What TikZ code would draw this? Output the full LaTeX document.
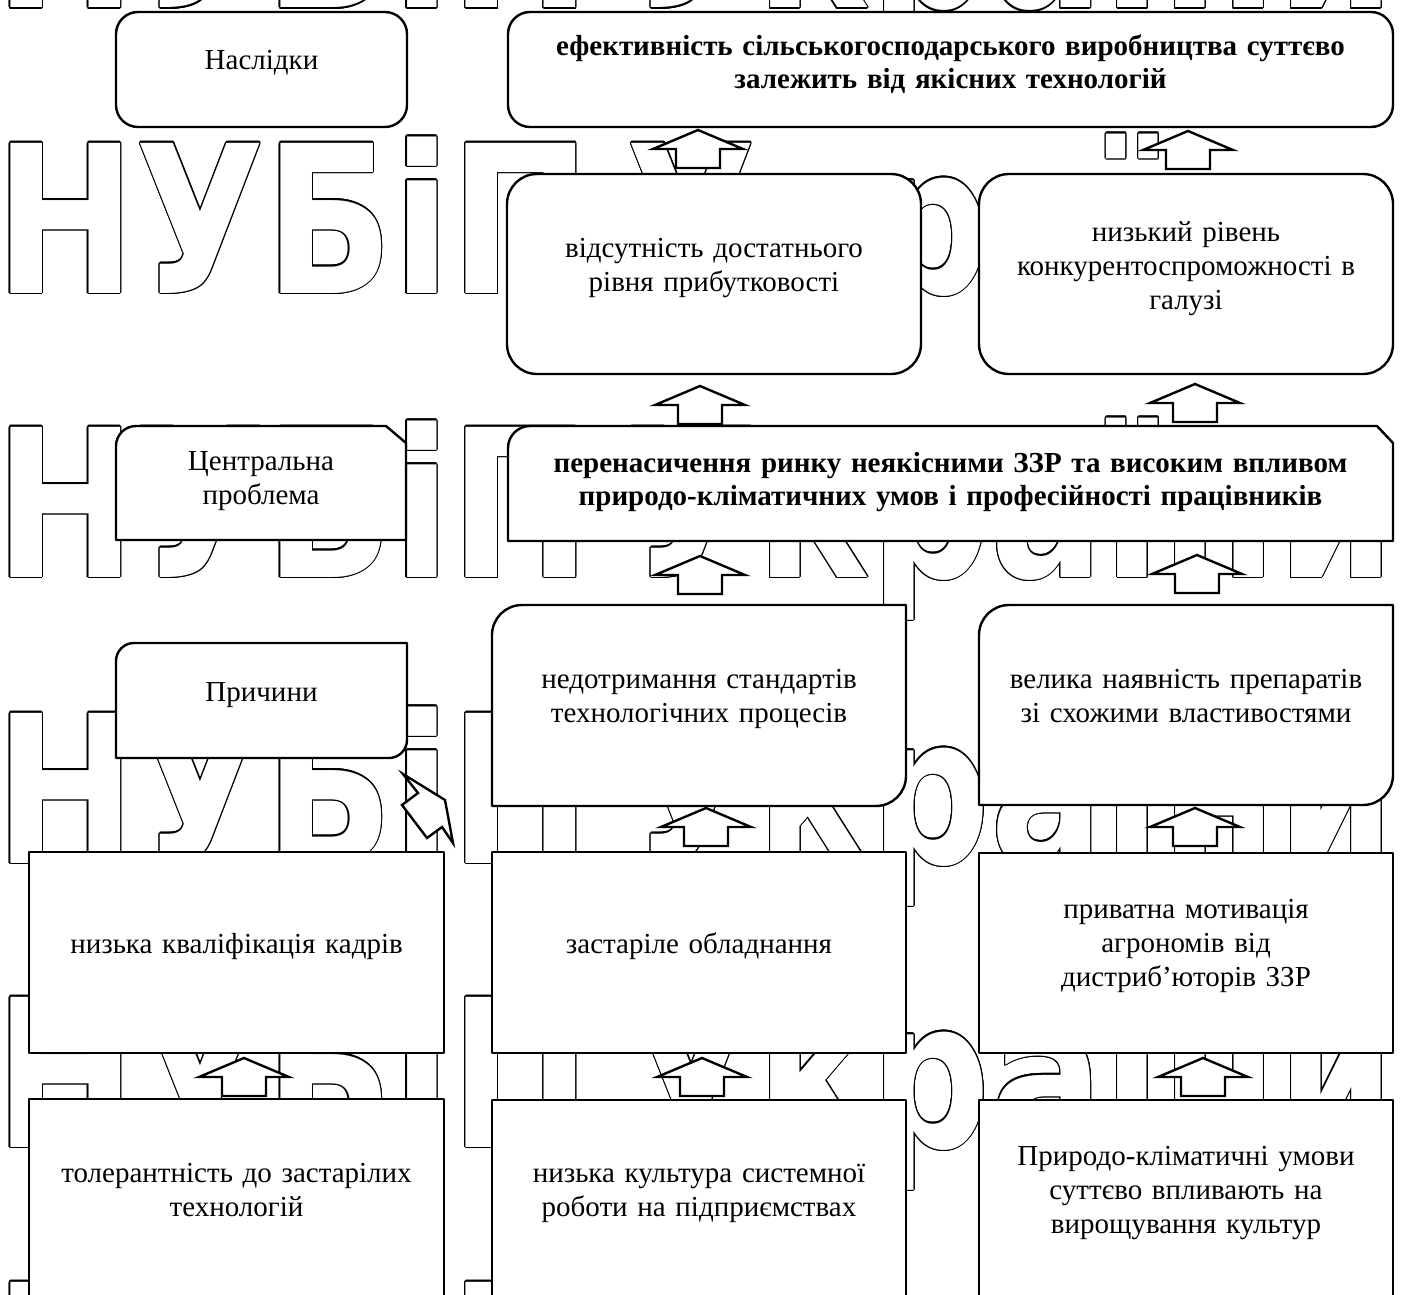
\documentclass[tikz,border=0pt]{standalone}
\usepackage{fontspec}
\setmainfont{Liberation Serif}
\newfontfamily\wmfont{DejaVu Sans}
\newsavebox\wmsave
\newdimen\wmw
\tikzset{
  box/.style={draw=black, line width=2.4pt, fill=white, line join=round},
  barr/.style={draw=black, line width=2.4pt, fill=white, line join=miter, miter limit=6},
  lbl/.style={font=\fontsize{29}{34}\selectfont, align=center, text width=440pt, inner sep=0pt, anchor=base},
  blbl/.style={font=\fontsize{29}{33}\selectfont\bfseries, align=center, text width=880pt, inner sep=0pt, anchor=base},
  wm/.style={font=\wmfont\bfseries\fontsize{206}{206}\selectfont, inner sep=0pt, anchor=base west, xscale=\wmx},
  area/.style={inner sep=0pt, draw=none},
}
% all corners rounded
\newcommand\abox[6]{%
  \draw[box, rounded corners=#6pt] (#2,#3) rectangle (#4,#5);
  \node[area, minimum width={#4pt-#2pt}, minimum height={#5pt-#3pt}] (#1) at ({(#2+#4)/2},{(#3+#5)/2}) {};}
% square corners
\newcommand\plainbox[5]{%
  \draw[box] (#2,#3) rectangle (#4,#5);
  \node[area, minimum width={#4pt-#2pt}, minimum height={#5pt-#3pt}] (#1) at ({(#2+#4)/2},{(#3+#5)/2}) {};}
% top-left and bottom-right rounded
\newcommand\diagbox[6]{%
  \draw[box] (#2,#5) -- (#2,#3+#6) arc[start angle=180, end angle=270, radius=#6]
    -- (#4,#3) -- (#4,#5-#6) arc[start angle=0, end angle=90, radius=#6] -- cycle;
  \node[area, minimum width={#4pt-#2pt}, minimum height={#5pt-#3pt}] (#1) at ({(#2+#4)/2},{(#3+#5)/2}) {};}
% top-left rounded, top-right snipped
\newcommand\chbox[8]{%
  \draw[box] (#2,#5) -- (#2,#3+#6) arc[start angle=180, end angle=270, radius=#6]
    -- (#4-#7,#3) -- (#4,#3+#8) -- (#4,#5) -- cycle;
  \node[area, minimum width={#4pt-#2pt}, minimum height={#5pt-#3pt}] (#1) at ({(#2+#4)/2},{(#3+#5)/2}) {};}
% upward block arrow, tip at (#2,#3)
\newcommand\uparr[3]{%
  \coordinate (#1) at (#2,#3);
  \draw[barr] (#1) -- ++(45,19) -- ++(-23,0) -- ++(0,19) -- ++(-44,0) -- ++(0,-19) -- ++(-23,0) -- cycle;}
\newcommand\wmtext{НУБіП\kern-28pt\ України}
\begin{document}
\sbox\wmsave{\wmfont\bfseries\fontsize{206}{206}\selectfont НУБіП}%
\wmw=\wd\wmsave
\ifdim\wmw<10pt \wmw=730pt \fi
\pgfmathsetmacro\wmx{596/\the\wmw}%
\begin{tikzpicture}[x=1pt, y=-1pt]
\path[use as bounding box, fill=white] (0,0) rectangle (1405,1295);

% watermark
\foreach \r/\yb in {0/8, 1/293, 2/577, 3/863, 4/1147, 5/1432} {
  \foreach \a in {0,22.5,...,337.5}
    \node[wm, text=black] at ([shift={(\a:1.2)}] -5,\yb) {\wmtext};
  \node[wm, text=white] (wm\r) at (-5,\yb) {\wmtext};
}

% boxes
\abox{b0}{116}{12}{407}{127}{22}
\abox{b1}{508}{12}{1393}{127}{22}
\abox{b2}{507}{174}{921}{374}{30}
\abox{b3}{979}{174}{1393}{374}{30}
\chbox{b4}{116}{426}{406}{540}{20}{20}{17}
\chbox{b5}{508}{426}{1393}{541}{22}{16}{17}
\diagbox{b6}{116}{643}{407}{758}{18}
\diagbox{b7}{492}{605}{906}{806}{30}
\diagbox{b8}{979}{605}{1393}{805}{30}
\plainbox{b9}{29}{852}{444}{1053}
\plainbox{b10}{492}{852}{906}{1053}
\plainbox{b11}{979}{853}{1393}{1053}
\plainbox{b12}{29}{1099}{444}{1310}
\plainbox{b13}{492}{1100}{906}{1310}
\plainbox{b14}{979}{1100}{1393}{1310}

% texts
\node[lbl] (t0) at (b0.center |- 0,70) {Наслідки};
\node[blbl] (t1) at (b1.center |- 0,56) {ефективність сільськогосподарського виробництва суттєво\\залежить від якісних технологій};
\node[lbl] (t2) at (b2.center |- 0,257) {відсутність достатнього\\рівня прибутковості};
\node[lbl] (t3) at (b3.center |- 0,241) {низький рівень\\конкурентоспроможності в\\галузі};
\node[lbl] (t4) at (b4.center |- 0,470) {Центральна\\проблема};
\node[blbl] (t5) at (b5.center |- 0,472) {перенасичення ринку неякісними ЗЗР та високим впливом\\природо-кліматичних умов і професійності працівників};
\node[lbl] (t6) at (b6.center |- 0,701) {Причини};
\node[lbl] (t7) at (b7.center |- 0,688) {недотримання стандартів\\технологічних процесів};
\node[lbl] (t8) at (b8.center |- 0,688) {велика наявність препаратів\\зі схожими властивостями};
\node[lbl] (t9) at (b9.center |- 0,953) {низька кваліфікація кадрів};
\node[lbl] (t10) at (b10.center |- 0,953) {застаріле обладнання};
\node[lbl] (t11) at (b11.center |- 0,918) {приватна мотивація\\агрономів від\\дистриб’юторів ЗЗР};
\node[lbl] (t12) at (b12.center |- 0,1182) {толерантність до застарілих\\технологій};
\node[lbl] (t13) at (b13.center |- 0,1182) {низька культура системної\\роботи на підприємствах};
\node[lbl] (t14) at (b14.center |- 0,1165) {Природо-кліматичні умови\\суттєво впливають на\\вирощування культур};

% block arrows
\uparr{a1}{698}{130}
\uparr{a2}{1188}{131}
\uparr{a3}{700}{386}
\uparr{a4}{1195}{384}
\uparr{a5}{700}{556}
\uparr{a6}{1197}{555}
\uparr{a7}{706}{808}
\uparr{a8}{1195}{808}
\uparr{a9}{244}{1058}
\uparr{a10}{702}{1058}
\uparr{a11}{1203}{1058}
\coordinate (a12) at (403,774);
\draw[barr] (a12) -- ++(42,26) -- ++(8,43) -- ++(-11,-16) -- ++(-15,11) -- ++(-25,-33) -- ++(16,-12) -- cycle;
\end{tikzpicture}
\end{document}
